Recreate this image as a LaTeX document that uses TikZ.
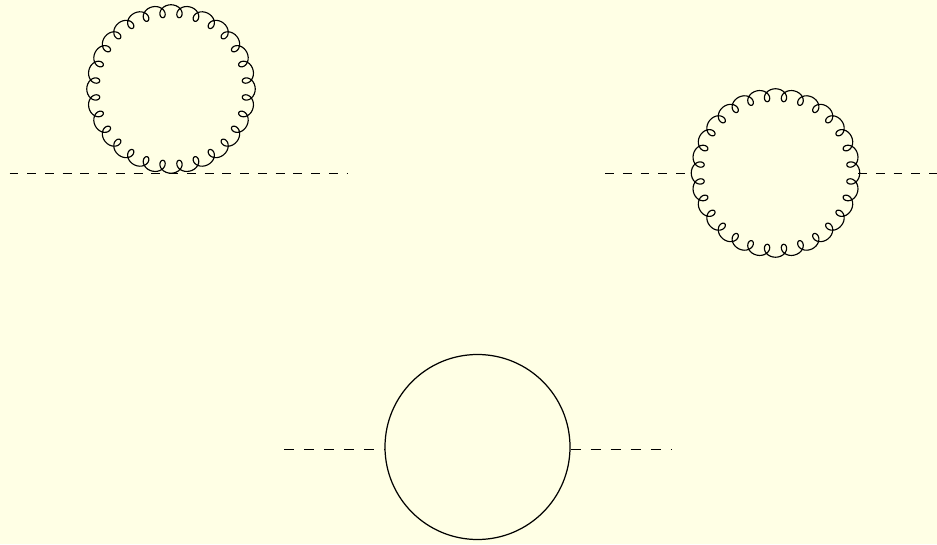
\documentclass[tikz,border=0pt]{standalone}
\definecolor{PaperCream}{HTML}{FFFFE5}
\newcommand{\gluonring}[1]{\draw[gluon,shift={(#1)}] plot[domain=0:10080,samples=673]
  ({(1.56+.125*cos(\x))*cos(90+\x/28+4.78*sin(\x))},{(1.56+.125*cos(\x))*sin(90+\x/28+4.78*sin(\x))});}
\tikzset{
  scalar/.style={line width=.5pt,dash pattern=on 5.1pt off 5pt},
  scalarb/.style={line width=.7pt,dash pattern=on 5.7pt off 5.7pt},
  gluon/.style={line width=.65pt,line join=round},
  bubble/.style={circle,draw,line width=.7pt,inner sep=0pt,minimum size=3.7cm}
}
\begin{document}
\begin{tikzpicture}
\fill[PaperCream] (0,0) rectangle (18.74,10.88);
\useasboundingbox (0,0) rectangle (18.74,10.88);
\coordinate (tadpole) at (3.42,9.10);
\coordinate (sunset) at (15.51,7.42);
\gluonring{tadpole}
\gluonring{sunset}
\node[bubble] (loop) at (9.55,1.94) {};
\coordinate (tadin) at (.19,7.415);
\coordinate (tadout) at (6.95,7.415);
\coordinate (sunin) at (12.10,7.415);
\coordinate (sunleft) at (13.84,7.415);
\coordinate (sunright) at (17.16,7.415);
\coordinate (sunout) at (18.74,7.415);
\coordinate (loopin) at (5.68,1.89);
\coordinate (loopout) at (13.42,1.89);
\draw[scalar] (tadin)--(tadout);
\draw[scalar] (sunin)--(sunleft);
\draw[scalar] (sunright)--(sunout);
\draw[scalarb] (loopin)--(loopin-|loop.west);
\draw[scalarb] (loopout-|loop.east)--(loopout);
\end{tikzpicture}
\end{document}
